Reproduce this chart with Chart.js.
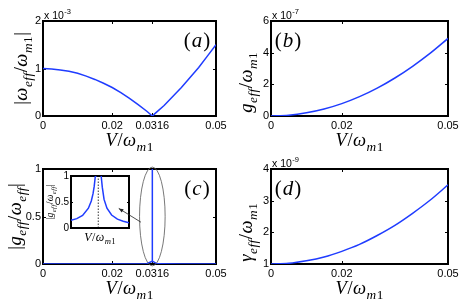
<!DOCTYPE html>
<html><head><meta charset="utf-8">
<script src="https://cdn.jsdelivr.net/npm/chart.js@4.4.1/dist/chart.umd.min.js"></script>
<style>
html,body{margin:0;padding:0;background:#fff;}
#wrap{position:relative;width:463px;height:308px;overflow:hidden;background:#fff;}
canvas{position:absolute;display:block;}
</style></head><body>
<div id="wrap">
<canvas id="ca" width="232" height="154" style="left:0;top:0"></canvas>
<canvas id="cb" width="231" height="154" style="left:232px;top:0"></canvas>
<canvas id="ci" width="93" height="84" style="left:40px;top:166px"></canvas>
<canvas id="cc" width="232" height="160" style="left:0;top:148px"></canvas>
<canvas id="cd" width="231" height="160" style="left:232px;top:148px"></canvas>
</div>
<script>
// ---------------- data ----------------
// (a) |omega_eff/omega_m1|  (units of 1e-3)
const vA = [0,0.0025,0.005,0.0075,0.01,0.0125,0.015,0.0175,0.02,0.0225,0.025,0.0275,0.03,0.0316,0.0325,0.035,0.0375,0.04,0.0425,0.045,0.0475,0.05];
const omegaEff = [1.00,0.99,0.97,0.94,0.90,0.84,0.77,0.69,0.60,0.49,0.37,0.24,0.10,0.00,0.06,0.22,0.41,0.60,0.81,1.02,1.26,1.50];
// (b) g_eff/omega_m1 (units of 1e-7)
const vB = [0,0.005,0.01,0.015,0.02,0.025,0.03,0.035,0.04,0.045,0.05];
const gEff = [0,0.05,0.2,0.44,0.78,1.22,1.76,2.4,3.14,3.97,4.9];
// (c) |g_eff/omega_eff|
const vC = [0,0.01,0.02,0.03,0.0316,0.0316,0.0316,0.033,0.04,0.05];
const ratioC = [0.0002,0.0003,0.0005,0.003,0.03,1.2,0.03,0.002,0.0005,0.0004];
// (c) inset (zoom around V = 0.0316, arbitrary horizontal units)
const insetXL = [0,0.1,0.2,0.3,0.35,0.38,0.4,0.42,0.43];
const insetYL = [0.15,0.18,0.24,0.38,0.52,0.66,0.8,1.0,1.2];
const insetXR = [0.51,0.52,0.54,0.57,0.62,0.7,0.8,0.9,1.0];
const insetYR = [1.2,1.0,0.78,0.55,0.38,0.25,0.17,0.13,0.1];
const insetCenter = [0.47];
// (d) gamma_eff/omega_m1 (units of 1e-9)
const vD = [0,0.005,0.01,0.015,0.02,0.025,0.03,0.035,0.04,0.045,0.05];
const gammaEff = [1.0,1.02,1.1,1.22,1.4,1.62,1.9,2.22,2.6,3.02,3.5];

// tick labels
const xTicksAC = [0,0.02,0.0316,0.05];
const xLabelsAC = ['0','0.02','0.0316','0.05'];
const xTicksBD = [0,0.02,0.05];
const xLabelsBD = ['0','0.02','0.05'];
const yTicksA = [0,1,2];   const yLabelsA = ['0','1','2'];
const yTicksB = [0,2,4,6]; const yLabelsB = ['0','2','4','6'];
const yTicksC = [0,0.5,1]; const yLabelsC = ['0','0.5','1'];
const yTicksD = [1,2,3,4]; const yLabelsD = ['1','2','3','4'];

// ---------------- helpers ----------------
const BLUE = '#1f3cff';
const TICKFONT = '"Liberation Sans", Arial, sans-serif';
const MATHFONT = '"Liberation Serif", "Times New Roman", serif';
const pts = (xs, ys) => xs.map((v,i)=>({x:v,y:ys[i]}));

function drawMath(ctx, segs, cx, cy, size, rot, sp) {
  sp = sp || 0;
  const sub = size*0.72;
  const fontOf = s => (s[1].includes('i')?'italic ':'') + (s[1].includes('s')?sub:size) + 'px ' + MATHFONT;
  const chars = [];
  segs.forEach(s=>{ for (const ch of s[0]) chars.push([ch, s[1]]); });
  let w = 0;
  chars.forEach(c=>{ctx.font=fontOf(c); c.push(ctx.measureText(c[0]).width); w += c[2] + sp;});
  w -= sp;
  ctx.save(); ctx.translate(cx,cy); if (rot) ctx.rotate(rot);
  ctx.fillStyle='#000'; ctx.textAlign='left'; ctx.textBaseline='alphabetic';
  let x = -w/2; const base = size*0.33;
  chars.forEach(c=>{ctx.font=fontOf(c); ctx.fillText(c[0], x, base + (c[1].includes('s')?size*0.27:0)); x += c[2] + sp;});
  ctx.restore();
}
function drawExp(ctx, x, base, e) {
  ctx.save(); ctx.fillStyle='#000'; ctx.textAlign='left'; ctx.textBaseline='alphabetic';
  ctx.font = '10.5px ' + TICKFONT; ctx.fillText('x 10', x, base);
  const w = ctx.measureText('x 10').width;
  ctx.font = '7.5px ' + TICKFONT; ctx.fillText(e, x + w + 0.5, base - 5);
  ctx.restore();
}
const LBL_V = [['V','i'],['/',''],['ω','i'],['m','is'],['1','s']];

const deco = {
  id:'deco',
  beforeDatasetsDraw(chart, args, o) {
    const {ctx, chartArea:a, scales:{x,y}} = chart;
    ctx.save();
    if (o.fill) { ctx.fillStyle='#fff'; ctx.fillRect(a.left,a.top,a.right-a.left,a.bottom-a.top); }
    ctx.strokeStyle='#000'; ctx.lineWidth=1;
    const L = o.tick || 3;
    ctx.beginPath();
    x.ticks.forEach(t=>{const p=Math.round(x.getPixelForValue(t.value))+0.5;
      ctx.moveTo(p,a.bottom); ctx.lineTo(p,a.bottom-L); ctx.moveTo(p,a.top); ctx.lineTo(p,a.top+L);});
    y.ticks.forEach(t=>{const p=Math.round(y.getPixelForValue(t.value))+0.5;
      ctx.moveTo(a.left,p); ctx.lineTo(a.left+L,p); ctx.moveTo(a.right,p); ctx.lineTo(a.right-L,p);});
    ctx.stroke();
    ctx.lineWidth=2; ctx.strokeRect(a.left,a.top,a.right-a.left,a.bottom-a.top);
    ctx.restore();
  },
  afterDraw(chart, args, o) {
    const {ctx, chartArea:a} = chart;
    if (o.xTitle) drawMath(ctx, o.xTitle, (a.left+a.right)/2, a.bottom + o.xTitleDy, o.xSize, 0, o.sp);
    if (o.yTitle) drawMath(ctx, o.yTitle, o.yTitleX, (a.top+a.bottom)/2 + (o.yTitleDy||0), o.ySize, -Math.PI/2, o.sp);
    if (o.exp) drawExp(ctx, a.left+1, a.top-2, o.exp);
    if (o.panel) {
      const px = o.panelRight ? a.right - 19 : a.left + 17;
      drawMath(ctx, [['(',''],[o.panel,'i'],[')','']], px, a.top + 19, 21, 0, 1);
    }
    if (o.extra) o.extra(chart);
  }
};

function scaleX(min,max,ticks,labels,h,show) {
  return {type:'linear', min, max,
    grid:{display:false, drawTicks:false}, border:{display:false},
    ticks:{display:show!==false, autoSkip:false, maxRotation:0, padding:3, color:'#000',
      font:{family:TICKFONT,size:11}, callback:(v)=>labels[ticks.indexOf(v)]},
    afterBuildTicks:s=>{s.ticks=ticks.map(v=>({value:v}));},
    afterFit:s=>{s.height=h;}};
}
function scaleY(min,max,ticks,labels,w,fs) {
  return {type:'linear', min, max,
    grid:{display:false, drawTicks:false}, border:{display:false},
    ticks:{autoSkip:false, padding:2, color:'#000', font:{family:TICKFONT,size:fs||11},
      callback:(v)=>labels[ticks.indexOf(v)]},
    afterBuildTicks:s=>{s.ticks=ticks.map(v=>({value:v}));},
    afterFit:s=>{s.width=w;}};
}
function line(data, extra) {
  return Object.assign({data, borderColor:BLUE, borderWidth:1.5, pointRadius:0, fill:false, tension:0}, extra||{});
}
function make(id, datasets, sx, sy, pad, decoOpts) {
  return new Chart(document.getElementById(id), {
    type:'line', data:{datasets},
    options:{responsive:false, animation:false, events:[],
      layout:{padding:pad},
      plugins:{legend:{display:false}, tooltip:{enabled:false}, deco:decoOpts},
      scales:{x:sx, y:sy}},
    plugins:[deco]
  });
}

// annotation geometry for panel (c), in data units
const ELLIPSE = {cx:0.0316, cy:0.5, rx:0.0037, ry:0.52};
const ARROW = {x0:0.0283, y0:0.44, x1:0.0219, y1:0.585};
const TS = 18.5, SP = 0.5;

// (a)
make('ca', [line(pts(vA, omegaEff))],
  scaleX(0,0.05,xTicksAC,xLabelsAC,38), scaleY(0,2,yTicksA,yLabelsA,43),
  {left:0,top:21,right:16,bottom:0},
  {xTitle:LBL_V, xTitleDy:24, xSize:TS, sp:SP,
   yTitle:[['|',''],['ω','i'],['eff','is'],['/',''],['ω','i'],['m','is'],['1','s'],['|','']], yTitleX:21, ySize:TS,
   exp:'-3', panel:'a', panelRight:true});
// (b)
make('cb', [line(pts(vB, gEff), {cubicInterpolationMode:'monotone'})],
  scaleX(0,0.05,xTicksBD,xLabelsBD,38), scaleY(0,6,yTicksB,yLabelsB,39),
  {left:0,top:21,right:15,bottom:0},
  {xTitle:LBL_V, xTitleDy:24, xSize:TS, sp:SP,
   yTitle:[['g','i'],['eff','is'],['/',''],['ω','i'],['m','is'],['1','s']], yTitleX:14, yTitleDy:14, ySize:TS,
   exp:'-7', panel:'b', panelRight:false});
// inset of (c)
make('ci', [line(pts(insetXL, insetYL)), line(pts(insetXR, insetYR)),
  line([{x:insetCenter[0],y:0},{x:insetCenter[0],y:1}], {borderColor:'#000', borderWidth:0.8, borderDash:[1.5,1.5]})],
  scaleX(0,1,[],[],22,false), scaleY(0,1,yTicksC,yLabelsC,31,10),
  {left:0,top:10,right:4,bottom:0},
  {fill:true, tick:2, xTitle:LBL_V, xTitleDy:9, xSize:12, sp:0.4,
   yTitle:[['|',''],['g','i'],['eff','is'],['/',''],['ω','i'],['eff','is'],['|','']], yTitleX:10, ySize:9.5});
// (c)
make('cc', [line(pts(vC, ratioC))],
  scaleX(0,0.05,xTicksAC,xLabelsAC,44), scaleY(0,1,yTicksC,yLabelsC,43),
  {left:0,top:21,right:16,bottom:0},
  {xTitle:LBL_V, xTitleDy:24, xSize:TS, sp:SP,
   yTitle:[['|',''],['g','i'],['eff','is'],['/',''],['ω','i'],['eff','is'],['|','']], yTitleX:15, ySize:TS,
   panel:'c', panelRight:true,
   extra:(chart)=>{
     const {ctx, scales:{x,y}} = chart;
     const cx=x.getPixelForValue(ELLIPSE.cx), cy=y.getPixelForValue(ELLIPSE.cy);
     const rx=Math.abs(x.getPixelForValue(ELLIPSE.cx+ELLIPSE.rx)-cx), ry=Math.abs(y.getPixelForValue(ELLIPSE.cy+ELLIPSE.ry)-cy);
     ctx.save(); ctx.strokeStyle='#555'; ctx.lineWidth=0.8;
     ctx.beginPath(); ctx.ellipse(cx,cy,rx,ry,0,0,Math.PI*2); ctx.stroke();
     const x0=x.getPixelForValue(ARROW.x0), y0=y.getPixelForValue(ARROW.y0), x1=x.getPixelForValue(ARROW.x1), y1=y.getPixelForValue(ARROW.y1);
     ctx.strokeStyle='#222'; ctx.lineWidth=0.8;
     ctx.beginPath(); ctx.moveTo(x0,y0); ctx.lineTo(x1,y1); ctx.stroke();
     const ang=Math.atan2(y1-y0,x1-x0), hl=5;
     ctx.beginPath(); ctx.moveTo(x1,y1); ctx.lineTo(x1-hl*Math.cos(ang-0.4), y1-hl*Math.sin(ang-0.4));
     ctx.lineTo(x1-hl*Math.cos(ang+0.4), y1-hl*Math.sin(ang+0.4)); ctx.closePath(); ctx.fillStyle='#222'; ctx.fill();
     ctx.restore();
   }});
// (d)
make('cd', [line(pts(vD, gammaEff), {cubicInterpolationMode:'monotone'})],
  scaleX(0,0.05,xTicksBD,xLabelsBD,44), scaleY(1,4,yTicksD,yLabelsD,39),
  {left:0,top:21,right:15,bottom:0},
  {xTitle:LBL_V, xTitleDy:24, xSize:TS, sp:SP,
   yTitle:[['γ','i'],['eff','is'],['/',''],['ω','i'],['m','is'],['1','s']], yTitleX:14, yTitleDy:16, ySize:TS,
   exp:'-9', panel:'d', panelRight:false});
</script>
</body></html>
